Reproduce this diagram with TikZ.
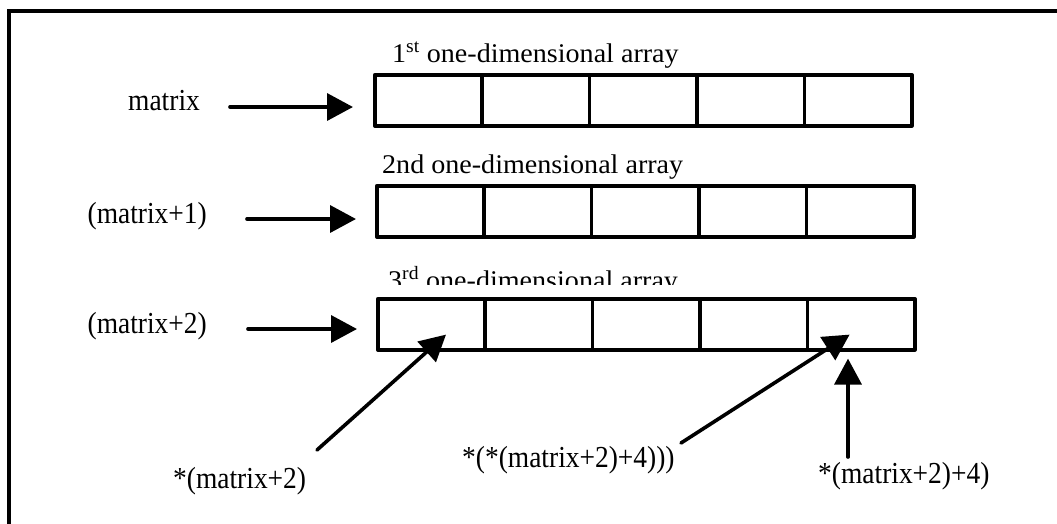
\documentclass[tikz,border=0pt]{standalone}
\usepackage{fontspec}
\setmainfont{Liberation Serif}[FakeStretch=0.9]
\newfontfamily\titlefont{Liberation Serif}[FakeStretch=1.04]
\usetikzlibrary{arrows.meta}

\begin{document}
\begin{tikzpicture}[x=1pt,y=-1pt,line cap=round,line join=round,
  cell/.style={draw,line width=3.6pt,minimum width=107.4pt,minimum height=51pt,inner sep=0pt,anchor=north west},
  ptr/.style={line width=3.6pt,-{Triangle[length=26pt,width=27pt]}},
  lbl/.style={inner sep=0pt,font=\fontsize{30.5}{32}\selectfont},
  ttl/.style={inner sep=0pt,anchor=base west,font=\titlefont\fontsize{27}{29}\selectfont}]
  \clip (0,0) rectangle (1057,523);
  \draw[line width=4.5pt,line join=miter] (9,11) rectangle (1100,600);
  % the three rows
  \foreach \r/\x/\y in {1/373/73,2/375/184,3/376/297}{
    \foreach \c in {1,...,5}{\node[cell] (r\r-\c) at ({\x+(\c-1)*107.4},\y) {};}
  }
  \node[ttl] (ttl1) at (392,62) {1\textsuperscript{st} one-dimensional array};
  \node[ttl] (ttl2) at (382,173) {2nd one-dimensional array};
  \begin{scope}
    \clip (370,240) rectangle (720,284);
    \node[ttl] (ttl3) at (388,289) {3\textsuperscript{rd} one-dimensional array};
  \end{scope}
  % row pointers
  \node[lbl,anchor=base west] (mat0) at (128,110) {matrix};
  \node[lbl,anchor=base east] (mat1) at (207,223) {(matrix+1)};
  \node[lbl,anchor=base east] (mat2) at (207,333) {(matrix+2)};
  \coordinate (p0) at (230,107);\coordinate (p1) at (247,219);\coordinate (p2) at (248,329);
  \draw[ptr,shorten >=20pt] (p0) -- (p0 -| r1-1.west);
  \draw[ptr,shorten >=19pt] (p1) -- (p1 -| r2-1.west);
  \draw[ptr,shorten >=19pt] (p2) -- (p2 -| r3-1.west);
  % element pointers
  \node[lbl,anchor=base west] (deref1) at (173,488) {*(matrix+2)};
  \node[lbl,anchor=base west] (deref2) at (462,467) {*(*(matrix+2)+4)))};
  \node[lbl,anchor=base west] (elem) at (818,483) {*(matrix+2)+4)};
  \coordinate (q1) at (317,450);\coordinate (q2) at (681,443);\coordinate (q3) at (848,457);
  \draw[ptr] (q1) -- ([xshift=-41pt,yshift=17pt]r3-1.south east);
  \draw[ptr] (q2) -- ([xshift=44pt,yshift=17pt]r3-5.south west);
  \draw[ptr,shorten >=7pt] (q3) -- (q3 |- r3-5.south);
\end{tikzpicture}
\end{document}
